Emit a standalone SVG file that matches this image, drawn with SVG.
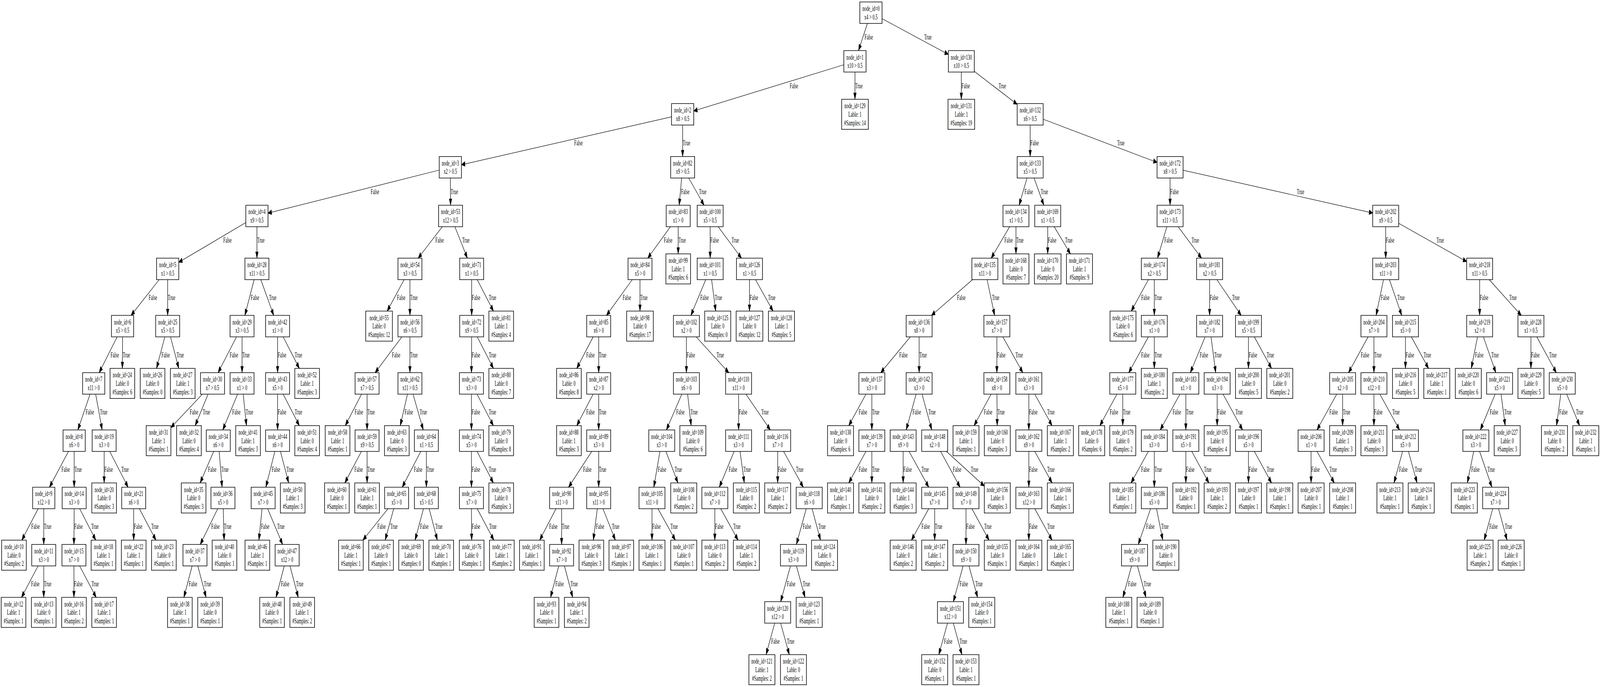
<svg xmlns="http://www.w3.org/2000/svg" xmlns:xlink="http://www.w3.org/1999/xlink" width="7205" height="1759" viewBox="0 0 7205 1759" preserveAspectRatio="none">
<style>
svg{width:100vw;height:100vh}
.box{fill:#fff;stroke:#000;stroke-width:1.5;vector-effect:non-scaling-stroke}
text{font-family:"Liberation Serif","Times New Roman",serif;font-size:18px;fill:#000}
.n text{text-anchor:middle}
#connectors line{stroke:#000;stroke-width:1.2;fill:none;vector-effect:non-scaling-stroke}
</style>
<defs>
<marker id="ah" markerUnits="userSpaceOnUse" markerWidth="20" markerHeight="14" refX="16" refY="6" orient="auto" overflow="visible"><path d="M0,0L16,6L0,12z" fill="#000" stroke="#000" stroke-width="1.2"/></marker>
<rect id="bA" class="box" x="-50" y="-27.5" width="100" height="55"/>
<rect id="bB" class="box" x="-54" y="-27.5" width="108" height="55"/>
<rect id="bC" class="box" x="-58.5" y="-27.5" width="117" height="55"/>
<rect id="bD" class="box" x="-55.5" y="-38.5" width="111" height="77"/>
<rect id="bE" class="box" x="-58.5" y="-38.5" width="117" height="77"/>
<rect id="bF" class="box" x="-60" y="-38.5" width="120" height="77"/>
</defs>
<rect width="7205" height="1759" fill="#fff"/>
<g id="connectors" marker-end="url(#ah)">
<line x1="3906.1" y1="60" x2="3865.9" y2="129.6"/><text x="3893.2" y="101.1">False</text>
<line x1="3972" y1="47.8" x2="4270.5" y2="139.2"/><text x="4161.8" y="101.1">True</text>
<line x1="3800" y1="165.8" x2="3124" y2="284"/><text x="3556.3" y="225.7">False</text>
<line x1="3850" y1="184.6" x2="3850" y2="254.2"/><text x="3851" y="225.7">True</text>
<line x1="3024" y1="299.2" x2="2078" y2="421.8"/><text x="2586" y="372.3">False</text>
<line x1="3074" y1="320.2" x2="3074" y2="400.8"/><text x="3075" y="372.3">True</text>
<line x1="1978" y1="435.5" x2="1207" y2="545.7"/><text x="1669.5" y="496.9">False</text>
<line x1="2028" y1="455.8" x2="2029" y2="525.4"/><text x="2029.6" y="496.9">True</text>
<line x1="1107" y1="569.8" x2="805" y2="671.6"/><text x="1005.3" y="621.5">False</text>
<line x1="1157" y1="580.4" x2="1157" y2="661"/><text x="1158" y="621.5">True</text>
<line x1="716.9" y1="716" x2="590.1" y2="807.6"/><text x="669.5" y="768.1">False</text>
<line x1="755" y1="716" x2="755" y2="807.6"/><text x="756" y="768.1">True</text>
<line x1="527.6" y1="862.6" x2="446.4" y2="954.2"/><text x="497.6" y="914.7">False</text>
<line x1="552" y1="862.6" x2="551" y2="943.2"/><text x="552.6" y="914.7">True</text>
<line x1="405.5" y1="1009.2" x2="350.5" y2="1100.8"/><text x="385.5" y="1061.3">False</text>
<line x1="430.8" y1="1009.2" x2="460.2" y2="1100.8"/><text x="450" y="1061.3">True</text>
<line x1="308.3" y1="1155.8" x2="222.7" y2="1247.4"/><text x="276.6" y="1207.9">False</text>
<line x1="334" y1="1155.8" x2="334" y2="1247.4"/><text x="335" y="1207.9">True</text>
<line x1="171.9" y1="1302.4" x2="98.2" y2="1383"/><text x="140.9" y="1354.5">False</text>
<line x1="197" y1="1302.4" x2="197" y2="1394"/><text x="198" y="1354.5">True</text>
<line x1="171.5" y1="1449" x2="96.7" y2="1529.6"/><text x="140" y="1501.1">False</text>
<line x1="197" y1="1449" x2="197" y2="1529.6"/><text x="198" y="1501.1">True</text>
<line x1="334" y1="1302.4" x2="333" y2="1394"/><text x="334.6" y="1354.5">False</text>
<line x1="358.8" y1="1302.4" x2="431.3" y2="1383"/><text x="410.7" y="1354.5">True</text>
<line x1="333" y1="1449" x2="333" y2="1529.6"/><text x="334" y="1501.1">False</text>
<line x1="358.5" y1="1449" x2="433.3" y2="1529.6"/><text x="412" y="1501.1">True</text>
<line x1="469" y1="1155.8" x2="469" y2="1236.4"/><text x="470" y="1207.9">False</text>
<line x1="494" y1="1155.8" x2="577" y2="1247.4"/><text x="546.3" y="1207.9">True</text>
<line x1="602" y1="1302.4" x2="602" y2="1383"/><text x="603" y="1354.5">False</text>
<line x1="627.5" y1="1302.4" x2="702.3" y2="1383"/><text x="681" y="1354.5">True</text>
<line x1="742.2" y1="862.6" x2="704.9" y2="943.2"/><text x="727" y="914.7">False</text>
<line x1="767.8" y1="862.6" x2="805.1" y2="943.2"/><text x="795" y="914.7">True</text>
<line x1="1144.4" y1="716" x2="1102.6" y2="807.6"/><text x="1129.4" y="768.1">False</text>
<line x1="1174.4" y1="716" x2="1232.6" y2="807.6"/><text x="1211.4" y="768.1">True</text>
<line x1="1065" y1="862.6" x2="982" y2="954.2"/><text x="1034.3" y="914.7">False</text>
<line x1="1090" y1="862.6" x2="1090" y2="954.2"/><text x="1091" y="914.7">True</text>
<line x1="911.4" y1="1009.2" x2="769.5" y2="1094.8"/><text x="854.4" y="1061.3">False</text>
<line x1="937.1" y1="1009.2" x2="878.8" y2="1089.8"/><text x="912.8" y="1061.3">True</text>
<line x1="1069.9" y1="1009.2" x2="1003.1" y2="1100.8"/><text x="1045.4" y="1061.3">False</text>
<line x1="1095.1" y1="1009.2" x2="1109.9" y2="1089.8"/><text x="1106.5" y="1061.3">True</text>
<line x1="962.2" y1="1155.8" x2="901.1" y2="1236.4"/><text x="936.7" y="1207.9">False</text>
<line x1="986.9" y1="1155.8" x2="1000.1" y2="1247.4"/><text x="996" y="1207.9">True</text>
<line x1="980.4" y1="1302.4" x2="901.6" y2="1394"/><text x="951.3" y="1354.5">False</text>
<line x1="1005.3" y1="1302.4" x2="1009.2" y2="1383"/><text x="1009" y="1354.5">True</text>
<line x1="865.2" y1="1449" x2="827.9" y2="1529.6"/><text x="850" y="1501.1">False</text>
<line x1="890.8" y1="1449" x2="928.1" y2="1529.6"/><text x="918" y="1501.1">True</text>
<line x1="1250" y1="862.6" x2="1250" y2="954.2"/><text x="1251" y="914.7">False</text>
<line x1="1275" y1="862.6" x2="1348.1" y2="943.2"/><text x="1327.3" y="914.7">True</text>
<line x1="1250" y1="1009.2" x2="1250" y2="1100.8"/><text x="1251" y="1061.3">False</text>
<line x1="1275" y1="1009.2" x2="1348.1" y2="1089.8"/><text x="1327.3" y="1061.3">True</text>
<line x1="1237.8" y1="1155.8" x2="1197.2" y2="1247.4"/><text x="1223.3" y="1207.9">False</text>
<line x1="1262.8" y1="1155.8" x2="1300.1" y2="1236.4"/><text x="1290" y="1207.9">True</text>
<line x1="1180.1" y1="1302.4" x2="1165.8" y2="1383"/><text x="1174.9" y="1354.5">False</text>
<line x1="1205.3" y1="1302.4" x2="1272.7" y2="1394"/><text x="1248" y="1354.5">True</text>
<line x1="1280.2" y1="1449" x2="1242.9" y2="1529.6"/><text x="1265" y="1501.1">False</text>
<line x1="1305.8" y1="1449" x2="1343.1" y2="1529.6"/><text x="1333" y="1501.1">True</text>
<line x1="1991.9" y1="580.4" x2="1883.1" y2="661"/><text x="1960.5" y="621.5">False</text>
<line x1="2048.3" y1="580.4" x2="2104.7" y2="661"/><text x="2081.2" y="621.5">True</text>
<line x1="1819.9" y1="716" x2="1743.5" y2="796.6"/><text x="1787.7" y="768.1">False</text>
<line x1="1846" y1="716" x2="1846" y2="807.6"/><text x="1847" y="768.1">True</text>
<line x1="1809.8" y1="862.6" x2="1689.2" y2="954.2"/><text x="1764.7" y="914.7">False</text>
<line x1="1846" y1="862.6" x2="1846" y2="954.2"/><text x="1847" y="914.7">True</text>
<line x1="1628" y1="1009.2" x2="1554.9" y2="1089.8"/><text x="1597.3" y="1061.3">False</text>
<line x1="1653" y1="1009.2" x2="1653" y2="1100.8"/><text x="1654" y="1061.3">True</text>
<line x1="1627.5" y1="1155.8" x2="1552.7" y2="1236.4"/><text x="1596" y="1207.9">False</text>
<line x1="1653" y1="1155.8" x2="1653" y2="1236.4"/><text x="1654" y="1207.9">True</text>
<line x1="1834.9" y1="1009.2" x2="1802.5" y2="1089.8"/><text x="1821.8" y="1061.3">False</text>
<line x1="1859.9" y1="1009.2" x2="1906.1" y2="1100.8"/><text x="1889.5" y="1061.3">True</text>
<line x1="1894.9" y1="1155.8" x2="1811.1" y2="1247.4"/><text x="1863.9" y="1207.9">False</text>
<line x1="1920" y1="1155.8" x2="1920" y2="1247.4"/><text x="1921" y="1207.9">True</text>
<line x1="1747.4" y1="1302.4" x2="1634.1" y2="1383"/><text x="1699.2" y="1354.5">False</text>
<line x1="1772.9" y1="1302.4" x2="1734.4" y2="1383"/><text x="1757.2" y="1354.5">True</text>
<line x1="1907.1" y1="1302.4" x2="1869.1" y2="1383"/><text x="1891.6" y="1354.5">False</text>
<line x1="1932.6" y1="1302.4" x2="1969.4" y2="1383"/><text x="1959.4" y="1354.5">True</text>
<line x1="2124" y1="716" x2="2124" y2="807.6"/><text x="2125" y="768.1">False</text>
<line x1="2149" y1="716" x2="2222.1" y2="796.6"/><text x="2201.3" y="768.1">True</text>
<line x1="2124" y1="862.6" x2="2123" y2="954.2"/><text x="2124.6" y="914.7">False</text>
<line x1="2149" y1="862.6" x2="2222.1" y2="943.2"/><text x="2201.3" y="914.7">True</text>
<line x1="2123" y1="1009.2" x2="2123" y2="1100.8"/><text x="2124" y="1061.3">False</text>
<line x1="2148.1" y1="1009.2" x2="2221.8" y2="1089.8"/><text x="2200.9" y="1061.3">True</text>
<line x1="2123" y1="1155.8" x2="2123" y2="1247.4"/><text x="2124" y="1207.9">False</text>
<line x1="2148.1" y1="1155.8" x2="2221.8" y2="1236.4"/><text x="2200.9" y="1207.9">True</text>
<line x1="2123" y1="1302.4" x2="2124" y2="1383"/><text x="2124.6" y="1354.5">False</text>
<line x1="2148.7" y1="1302.4" x2="2224" y2="1383"/><text x="2202.6" y="1354.5">True</text>
<line x1="3069.6" y1="455.8" x2="3058.4" y2="525.4"/><text x="3066.7" y="496.9">False</text>
<line x1="3101.4" y1="455.8" x2="3170.6" y2="525.4"/><text x="3147.8" y="496.9">True</text>
<line x1="3019.1" y1="580.4" x2="2916.9" y2="661"/><text x="2989.7" y="621.5">False</text>
<line x1="3054" y1="580.4" x2="3054" y2="650"/><text x="3055" y="621.5">True</text>
<line x1="2847.1" y1="716" x2="2730.9" y2="807.6"/><text x="2803.7" y="768.1">False</text>
<line x1="2882" y1="716" x2="2882" y2="796.6"/><text x="2883" y="768.1">True</text>
<line x1="2670.9" y1="862.6" x2="2597.2" y2="943.2"/><text x="2639.9" y="914.7">False</text>
<line x1="2696" y1="862.6" x2="2696" y2="954.2"/><text x="2697" y="914.7">True</text>
<line x1="2670.9" y1="1009.2" x2="2597.2" y2="1089.8"/><text x="2639.9" y="1061.3">False</text>
<line x1="2696" y1="1009.2" x2="2696" y2="1100.8"/><text x="2697" y="1061.3">True</text>
<line x1="2664.7" y1="1155.8" x2="2560.3" y2="1247.4"/><text x="2625.8" y="1207.9">False</text>
<line x1="2696" y1="1155.8" x2="2696" y2="1247.4"/><text x="2697" y="1207.9">True</text>
<line x1="2503.9" y1="1302.4" x2="2430.2" y2="1383"/><text x="2472.9" y="1354.5">False</text>
<line x1="2529" y1="1302.4" x2="2529" y2="1394"/><text x="2530" y="1354.5">True</text>
<line x1="2516.2" y1="1449" x2="2478.9" y2="1529.6"/><text x="2501" y="1501.1">False</text>
<line x1="2541.8" y1="1449" x2="2579.1" y2="1529.6"/><text x="2569" y="1501.1">True</text>
<line x1="2689.8" y1="1302.4" x2="2671.7" y2="1383"/><text x="2682.9" y="1354.5">False</text>
<line x1="2715.1" y1="1302.4" x2="2771.2" y2="1383"/><text x="2755.5" y="1354.5">True</text>
<line x1="3198" y1="580.4" x2="3198" y2="661"/><text x="3199" y="621.5">False</text>
<line x1="3233.9" y1="580.4" x2="3339.1" y2="661"/><text x="3294.4" y="621.5">True</text>
<line x1="3177.9" y1="716" x2="3111.1" y2="807.6"/><text x="3153.4" y="768.1">False</text>
<line x1="3204.4" y1="716" x2="3223.1" y2="796.6"/><text x="3218.5" y="768.1">True</text>
<line x1="3091" y1="862.6" x2="3091" y2="954.2"/><text x="3092" y="914.7">False</text>
<line x1="3135.1" y1="862.6" x2="3281.9" y2="954.2"/><text x="3226.8" y="914.7">True</text>
<line x1="3070.2" y1="1009.2" x2="3000.8" y2="1100.8"/><text x="3044.7" y="1061.3">False</text>
<line x1="3096.4" y1="1009.2" x2="3112.4" y2="1089.8"/><text x="3108.6" y="1061.3">True</text>
<line x1="2971.7" y1="1155.8" x2="2944.3" y2="1247.4"/><text x="2962.2" y="1207.9">False</text>
<line x1="2998.6" y1="1155.8" x2="3053" y2="1236.4"/><text x="3037.8" y="1207.9">True</text>
<line x1="2936" y1="1302.4" x2="2936" y2="1383"/><text x="2937" y="1354.5">False</text>
<line x1="2962.8" y1="1302.4" x2="3041.4" y2="1383"/><text x="3019" y="1354.5">True</text>
<line x1="3326" y1="1009.2" x2="3326" y2="1100.8"/><text x="3327" y="1061.3">False</text>
<line x1="3359" y1="1009.2" x2="3469" y2="1100.8"/><text x="3428" y="1061.3">True</text>
<line x1="3305.9" y1="1155.8" x2="3239.1" y2="1247.4"/><text x="3281.4" y="1207.9">False</text>
<line x1="3332.6" y1="1155.8" x2="3351.8" y2="1236.4"/><text x="3347.1" y="1207.9">True</text>
<line x1="3219" y1="1302.4" x2="3219" y2="1383"/><text x="3220" y="1354.5">False</text>
<line x1="3245.6" y1="1302.4" x2="3323.7" y2="1383"/><text x="3301.5" y="1354.5">True</text>
<line x1="3502" y1="1155.8" x2="3502" y2="1236.4"/><text x="3503" y="1207.9">False</text>
<line x1="3528.6" y1="1155.8" x2="3617.4" y2="1247.4"/><text x="3584.5" y="1207.9">True</text>
<line x1="3630.7" y1="1302.4" x2="3586.3" y2="1394"/><text x="3614.7" y="1354.5">False</text>
<line x1="3656.9" y1="1302.4" x2="3694.9" y2="1383"/><text x="3684.6" y="1354.5">True</text>
<line x1="3559.7" y1="1449" x2="3515.3" y2="1540.6"/><text x="3543.7" y="1501.1">False</text>
<line x1="3586.3" y1="1449" x2="3625.4" y2="1529.6"/><text x="3614.7" y="1501.1">True</text>
<line x1="3488.7" y1="1595.6" x2="3449.6" y2="1676.2"/><text x="3472.7" y="1647.7">False</text>
<line x1="3515.3" y1="1595.6" x2="3554.4" y2="1676.2"/><text x="3543.7" y="1647.7">True</text>
<line x1="3375" y1="716" x2="3375" y2="796.6"/><text x="3376" y="768.1">False</text>
<line x1="3402" y1="716" x2="3481.2" y2="796.6"/><text x="3458.6" y="768.1">True</text>
<line x1="4329" y1="184.6" x2="4329" y2="254.2"/><text x="4330" y="225.7">False</text>
<line x1="4387.5" y1="182.7" x2="4580.5" y2="267.1"/><text x="4497.1" y="225.7">True</text>
<line x1="4639" y1="320.2" x2="4639" y2="400.8"/><text x="4640" y="372.3">False</text>
<line x1="4697.5" y1="305.3" x2="5210.5" y2="415.7"/><text x="5030.7" y="372.3">True</text>
<line x1="4624.9" y1="455.8" x2="4589.1" y2="525.4"/><text x="4613.5" y="496.9">False</text>
<line x1="4656.4" y1="455.8" x2="4700.6" y2="525.4"/><text x="4686.3" y="496.9">True</text>
<line x1="4546.6" y1="580.4" x2="4463.4" y2="661"/><text x="4522.8" y="621.5">False</text>
<line x1="4575" y1="580.4" x2="4575" y2="650"/><text x="4576" y="621.5">True</text>
<line x1="4379.5" y1="716" x2="4194.5" y2="807.6"/><text x="4309.8" y="768.1">False</text>
<line x1="4445.1" y1="716" x2="4478.9" y2="807.6"/><text x="4467" y="768.1">True</text>
<line x1="4099" y1="862.6" x2="3966" y2="954.2"/><text x="4049.2" y="914.7">False</text>
<line x1="4139" y1="862.6" x2="4139" y2="954.2"/><text x="4140" y="914.7">True</text>
<line x1="3899.5" y1="1009.2" x2="3822" y2="1089.8"/><text x="3866.9" y="1061.3">False</text>
<line x1="3926" y1="1009.2" x2="3926" y2="1100.8"/><text x="3927" y="1061.3">True</text>
<line x1="3899.5" y1="1155.8" x2="3822" y2="1236.4"/><text x="3866.9" y="1207.9">False</text>
<line x1="3926" y1="1155.8" x2="3926" y2="1236.4"/><text x="3927" y="1207.9">True</text>
<line x1="4125.5" y1="1009.2" x2="4080.5" y2="1100.8"/><text x="4109.3" y="1061.3">False</text>
<line x1="4152.1" y1="1009.2" x2="4195.9" y2="1100.8"/><text x="4180.2" y="1061.3">True</text>
<line x1="4067" y1="1155.8" x2="4067" y2="1236.4"/><text x="4068" y="1207.9">False</text>
<line x1="4093.6" y1="1155.8" x2="4182.4" y2="1247.4"/><text x="4149.5" y="1207.9">True</text>
<line x1="4182.4" y1="1302.4" x2="4104.3" y2="1383"/><text x="4149.5" y="1354.5">False</text>
<line x1="4209" y1="1302.4" x2="4209" y2="1383"/><text x="4210" y="1354.5">True</text>
<line x1="4235.5" y1="1155.8" x2="4323.5" y2="1247.4"/><text x="4290.9" y="1207.9">False</text>
<line x1="4261.9" y1="1155.8" x2="4432.5" y2="1244.5"/><text x="4371.8" y="1207.9">True</text>
<line x1="4350" y1="1302.4" x2="4350" y2="1394"/><text x="4351" y="1354.5">False</text>
<line x1="4376.5" y1="1302.4" x2="4454" y2="1383"/><text x="4431.9" y="1354.5">True</text>
<line x1="4336.9" y1="1449" x2="4293.1" y2="1540.6"/><text x="4321.2" y="1501.1">False</text>
<line x1="4363.3" y1="1449" x2="4402.4" y2="1529.6"/><text x="4391.7" y="1501.1">True</text>
<line x1="4266.7" y1="1595.6" x2="4227.6" y2="1676.2"/><text x="4250.7" y="1647.7">False</text>
<line x1="4293.1" y1="1595.6" x2="4331.6" y2="1676.2"/><text x="4321.2" y="1647.7">True</text>
<line x1="4489" y1="862.6" x2="4489" y2="954.2"/><text x="4490" y="914.7">False</text>
<line x1="4516" y1="862.6" x2="4606" y2="954.2"/><text x="4572.6" y="914.7">True</text>
<line x1="4462.9" y1="1009.2" x2="4386.5" y2="1089.8"/><text x="4430.7" y="1061.3">False</text>
<line x1="4489.4" y1="1009.2" x2="4490.5" y2="1089.8"/><text x="4491.1" y="1061.3">True</text>
<line x1="4633" y1="1009.2" x2="4633" y2="1100.8"/><text x="4634" y="1061.3">False</text>
<line x1="4659.6" y1="1009.2" x2="4737.7" y2="1089.8"/><text x="4715.5" y="1061.3">True</text>
<line x1="4633" y1="1155.8" x2="4633" y2="1247.4"/><text x="4634" y="1207.9">False</text>
<line x1="4659.6" y1="1155.8" x2="4737.7" y2="1236.4"/><text x="4715.5" y="1207.9">True</text>
<line x1="4633" y1="1302.4" x2="4633" y2="1383"/><text x="4634" y="1354.5">False</text>
<line x1="4659.6" y1="1302.4" x2="4737.7" y2="1383"/><text x="4715.5" y="1354.5">True</text>
<line x1="4718" y1="580.4" x2="4718" y2="650"/><text x="4719" y="621.5">False</text>
<line x1="4747" y1="580.4" x2="4820.4" y2="650"/><text x="4796.1" y="621.5">True</text>
<line x1="5269" y1="455.8" x2="5269" y2="525.4"/><text x="5270" y="496.9">False</text>
<line x1="5327.5" y1="435.8" x2="6181.5" y2="545.4"/><text x="5839.7" y="496.9">True</text>
<line x1="5254.6" y1="580.4" x2="5212.4" y2="661"/><text x="5243" y="621.5">False</text>
<line x1="5305.1" y1="580.4" x2="5410.9" y2="661"/><text x="5366" y="621.5">True</text>
<line x1="5171.5" y1="716" x2="5094" y2="796.6"/><text x="5138.9" y="768.1">False</text>
<line x1="5198" y1="716" x2="5198" y2="807.6"/><text x="5199" y="768.1">True</text>
<line x1="5171.4" y1="862.6" x2="5082.6" y2="954.2"/><text x="5138.5" y="914.7">False</text>
<line x1="5198" y1="862.6" x2="5198" y2="943.2"/><text x="5199" y="914.7">True</text>
<line x1="5029.7" y1="1009.2" x2="4952.8" y2="1089.8"/><text x="4997.3" y="1061.3">False</text>
<line x1="5056" y1="1009.2" x2="5056" y2="1089.8"/><text x="5057" y="1061.3">True</text>
<line x1="5447" y1="716" x2="5447" y2="807.6"/><text x="5448" y="768.1">False</text>
<line x1="5479.8" y1="716" x2="5589.2" y2="807.6"/><text x="5548.4" y="768.1">True</text>
<line x1="5426.9" y1="862.6" x2="5360.1" y2="954.2"/><text x="5402.4" y="914.7">False</text>
<line x1="5453.4" y1="862.6" x2="5474.6" y2="954.2"/><text x="5467.5" y="914.7">True</text>
<line x1="5313.4" y1="1009.2" x2="5224.6" y2="1100.8"/><text x="5280.5" y="1061.3">False</text>
<line x1="5340" y1="1009.2" x2="5340" y2="1100.8"/><text x="5341" y="1061.3">True</text>
<line x1="5171.4" y1="1155.8" x2="5093.3" y2="1236.4"/><text x="5138.5" y="1207.9">False</text>
<line x1="5198" y1="1155.8" x2="5198" y2="1247.4"/><text x="5199" y="1207.9">True</text>
<line x1="5181.3" y1="1302.4" x2="5125.7" y2="1394"/><text x="5161.1" y="1354.5">False</text>
<line x1="5207.8" y1="1302.4" x2="5236.3" y2="1383"/><text x="5228.8" y="1354.5">True</text>
<line x1="5095.7" y1="1449" x2="5056.6" y2="1529.6"/><text x="5079.7" y="1501.1">False</text>
<line x1="5122.1" y1="1449" x2="5160.6" y2="1529.6"/><text x="5150.2" y="1501.1">True</text>
<line x1="5340" y1="1155.8" x2="5340" y2="1236.4"/><text x="5341" y="1207.9">False</text>
<line x1="5366.5" y1="1155.8" x2="5444" y2="1236.4"/><text x="5421.9" y="1207.9">True</text>
<line x1="5481" y1="1009.2" x2="5481" y2="1089.8"/><text x="5482" y="1061.3">False</text>
<line x1="5507.5" y1="1009.2" x2="5595.5" y2="1100.8"/><text x="5562.9" y="1061.3">True</text>
<line x1="5622" y1="1155.8" x2="5622" y2="1236.4"/><text x="5623" y="1207.9">False</text>
<line x1="5648.5" y1="1155.8" x2="5726" y2="1236.4"/><text x="5703.9" y="1207.9">True</text>
<line x1="5622" y1="862.6" x2="5622" y2="943.2"/><text x="5623" y="914.7">False</text>
<line x1="5648.5" y1="862.6" x2="5726" y2="943.2"/><text x="5703.9" y="914.7">True</text>
<line x1="6240" y1="580.4" x2="6240" y2="661"/><text x="6241" y="621.5">False</text>
<line x1="6298.5" y1="571.7" x2="6604.5" y2="669.7"/><text x="6469" y="621.5">True</text>
<line x1="6230.1" y1="716" x2="6196.9" y2="807.6"/><text x="6218.4" y="768.1">False</text>
<line x1="6256.7" y1="716" x2="6312.3" y2="807.6"/><text x="6292.1" y="768.1">True</text>
<line x1="6160.5" y1="862.6" x2="6072.5" y2="954.2"/><text x="6127.9" y="914.7">False</text>
<line x1="6187" y1="862.6" x2="6187" y2="954.2"/><text x="6188" y="914.7">True</text>
<line x1="6019.4" y1="1009.2" x2="5930.6" y2="1100.8"/><text x="5986.5" y="1061.3">False</text>
<line x1="6046" y1="1009.2" x2="6046" y2="1089.8"/><text x="6047" y="1061.3">True</text>
<line x1="5904" y1="1155.8" x2="5904" y2="1236.4"/><text x="5905" y="1207.9">False</text>
<line x1="5930.6" y1="1155.8" x2="6008.7" y2="1236.4"/><text x="5986.5" y="1207.9">True</text>
<line x1="6187" y1="1009.2" x2="6187" y2="1089.8"/><text x="6188" y="1061.3">False</text>
<line x1="6213.6" y1="1009.2" x2="6302.4" y2="1100.8"/><text x="6269.5" y="1061.3">True</text>
<line x1="6315.9" y1="1155.8" x2="6277.4" y2="1236.4"/><text x="6300.2" y="1207.9">False</text>
<line x1="6342.3" y1="1155.8" x2="6381.4" y2="1236.4"/><text x="6370.7" y="1207.9">True</text>
<line x1="6329" y1="862.6" x2="6329" y2="943.2"/><text x="6330" y="914.7">False</text>
<line x1="6355.5" y1="862.6" x2="6433" y2="943.2"/><text x="6410.9" y="914.7">True</text>
<line x1="6663" y1="716" x2="6663" y2="807.6"/><text x="6664" y="768.1">False</text>
<line x1="6706.3" y1="716" x2="6850.7" y2="807.6"/><text x="6796.5" y="768.1">True</text>
<line x1="6653.4" y1="862.6" x2="6625.4" y2="943.2"/><text x="6642.3" y="914.7">False</text>
<line x1="6679.9" y1="862.6" x2="6736.1" y2="954.2"/><text x="6715.6" y="914.7">True</text>
<line x1="6732.9" y1="1009.2" x2="6666.1" y2="1100.8"/><text x="6708.4" y="1061.3">False</text>
<line x1="6759.4" y1="1009.2" x2="6778.1" y2="1089.8"/><text x="6773.5" y="1061.3">True</text>
<line x1="6636.2" y1="1155.8" x2="6607.7" y2="1236.4"/><text x="6624.8" y="1207.9">False</text>
<line x1="6662.7" y1="1155.8" x2="6718.3" y2="1247.4"/><text x="6698.1" y="1207.9">True</text>
<line x1="6721.9" y1="1302.4" x2="6683.4" y2="1383"/><text x="6706.2" y="1354.5">False</text>
<line x1="6748.1" y1="1302.4" x2="6786.6" y2="1383"/><text x="6776.2" y="1354.5">True</text>
<line x1="6894" y1="862.6" x2="6894" y2="943.2"/><text x="6895" y="914.7">False</text>
<line x1="6920.5" y1="862.6" x2="7008.5" y2="954.2"/><text x="6975.9" y="914.7">True</text>
<line x1="7028.4" y1="1009.2" x2="7009.2" y2="1089.8"/><text x="7021.1" y="1061.3">False</text>
<line x1="7054.9" y1="1009.2" x2="7113.2" y2="1089.8"/><text x="7096.8" y="1061.3">True</text>
</g>
<g id="nodes">
<g id="node0" class="n" transform="translate(3922,32.5)"><use xlink:href="#bA"/><text y="-4.5">node_id=0</text><text y="17.1">x4 &gt; 0.5</text></g>
<g id="node1" class="n" transform="translate(3850,157.1)"><use xlink:href="#bA"/><text y="-4.5">node_id=1</text><text y="17.1">x10 &gt; 0.5</text></g>
<g id="node2" class="n" transform="translate(3074,292.7)"><use xlink:href="#bA"/><text y="-4.5">node_id=2</text><text y="17.1">x8 &gt; 0.5</text></g>
<g id="node3" class="n" transform="translate(2028,428.3)"><use xlink:href="#bA"/><text y="-4.5">node_id=3</text><text y="17.1">x2 &gt; 0.5</text></g>
<g id="node4" class="n" transform="translate(1157,552.9)"><use xlink:href="#bA"/><text y="-4.5">node_id=4</text><text y="17.1">x9 &gt; 0.5</text></g>
<g id="node5" class="n" transform="translate(755,688.5)"><use xlink:href="#bA"/><text y="-4.5">node_id=5</text><text y="17.1">x1 &gt; 0.5</text></g>
<g id="node6" class="n" transform="translate(552,835.1)"><use xlink:href="#bA"/><text y="-4.5">node_id=6</text><text y="17.1">x5 &gt; 0.5</text></g>
<g id="node7" class="n" transform="translate(422,981.7)"><use xlink:href="#bA"/><text y="-4.5">node_id=7</text><text y="17.1">x11 &gt; 0</text></g>
<g id="node8" class="n" transform="translate(334,1128.3)"><use xlink:href="#bA"/><text y="-4.5">node_id=8</text><text y="17.1">x6 &gt; 0</text></g>
<g id="node9" class="n" transform="translate(197,1274.9)"><use xlink:href="#bA"/><text y="-4.5">node_id=9</text><text y="17.1">x12 &gt; 0</text></g>
<g id="node10" class="n" transform="translate(63,1421.5)"><use xlink:href="#bD"/><text y="-15.3">node_id=10</text><text y="6.3">Lable: 0</text><text y="27.9">#Samples: 2</text></g>
<g id="node11" class="n" transform="translate(197,1421.5)"><use xlink:href="#bB"/><text y="-4.5">node_id=11</text><text y="17.1">x3 &gt; 0</text></g>
<g id="node12" class="n" transform="translate(61,1568.1)"><use xlink:href="#bD"/><text y="-15.3">node_id=12</text><text y="6.3">Lable: 1</text><text y="27.9">#Samples: 1</text></g>
<g id="node13" class="n" transform="translate(197,1568.1)"><use xlink:href="#bD"/><text y="-15.3">node_id=13</text><text y="6.3">Lable: 0</text><text y="27.9">#Samples: 1</text></g>
<g id="node14" class="n" transform="translate(334,1274.9)"><use xlink:href="#bB"/><text y="-4.5">node_id=14</text><text y="17.1">x3 &gt; 0</text></g>
<g id="node15" class="n" transform="translate(333,1421.5)"><use xlink:href="#bB"/><text y="-4.5">node_id=15</text><text y="17.1">x7 &gt; 0</text></g>
<g id="node16" class="n" transform="translate(333,1568.1)"><use xlink:href="#bD"/><text y="-15.3">node_id=16</text><text y="6.3">Lable: 1</text><text y="27.9">#Samples: 2</text></g>
<g id="node17" class="n" transform="translate(469,1568.1)"><use xlink:href="#bD"/><text y="-15.3">node_id=17</text><text y="6.3">Lable: 1</text><text y="27.9">#Samples: 1</text></g>
<g id="node18" class="n" transform="translate(466,1421.5)"><use xlink:href="#bD"/><text y="-15.3">node_id=18</text><text y="6.3">Lable: 1</text><text y="27.9">#Samples: 1</text></g>
<g id="node19" class="n" transform="translate(469,1128.3)"><use xlink:href="#bB"/><text y="-4.5">node_id=19</text><text y="17.1">x3 &gt; 0</text></g>
<g id="node20" class="n" transform="translate(469,1274.9)"><use xlink:href="#bD"/><text y="-15.3">node_id=20</text><text y="6.3">Lable: 0</text><text y="27.9">#Samples: 3</text></g>
<g id="node21" class="n" transform="translate(602,1274.9)"><use xlink:href="#bB"/><text y="-4.5">node_id=21</text><text y="17.1">x6 &gt; 0</text></g>
<g id="node22" class="n" transform="translate(602,1421.5)"><use xlink:href="#bD"/><text y="-15.3">node_id=22</text><text y="6.3">Lable: 1</text><text y="27.9">#Samples: 1</text></g>
<g id="node23" class="n" transform="translate(738,1421.5)"><use xlink:href="#bD"/><text y="-15.3">node_id=23</text><text y="6.3">Lable: 0</text><text y="27.9">#Samples: 1</text></g>
<g id="node24" class="n" transform="translate(551,981.7)"><use xlink:href="#bD"/><text y="-15.3">node_id=24</text><text y="6.3">Lable: 0</text><text y="27.9">#Samples: 6</text></g>
<g id="node25" class="n" transform="translate(755,835.1)"><use xlink:href="#bB"/><text y="-4.5">node_id=25</text><text y="17.1">x5 &gt; 0.5</text></g>
<g id="node26" class="n" transform="translate(687,981.7)"><use xlink:href="#bD"/><text y="-15.3">node_id=26</text><text y="6.3">Lable: 0</text><text y="27.9">#Samples: 0</text></g>
<g id="node27" class="n" transform="translate(823,981.7)"><use xlink:href="#bD"/><text y="-15.3">node_id=27</text><text y="6.3">Lable: 1</text><text y="27.9">#Samples: 3</text></g>
<g id="node28" class="n" transform="translate(1157,688.5)"><use xlink:href="#bB"/><text y="-4.5">node_id=28</text><text y="17.1">x11 &gt; 0.5</text></g>
<g id="node29" class="n" transform="translate(1090,835.1)"><use xlink:href="#bB"/><text y="-4.5">node_id=29</text><text y="17.1">x3 &gt; 0.5</text></g>
<g id="node30" class="n" transform="translate(957,981.7)"><use xlink:href="#bB"/><text y="-4.5">node_id=30</text><text y="17.1">x7 &gt; 0.5</text></g>
<g id="node31" class="n" transform="translate(714,1128.3)"><use xlink:href="#bD"/><text y="-15.3">node_id=31</text><text y="6.3">Lable: 1</text><text y="27.9">#Samples: 1</text></g>
<g id="node32" class="n" transform="translate(851,1128.3)"><use xlink:href="#bD"/><text y="-15.3">node_id=32</text><text y="6.3">Lable: 0</text><text y="27.9">#Samples: 4</text></g>
<g id="node33" class="n" transform="translate(1090,981.7)"><use xlink:href="#bB"/><text y="-4.5">node_id=33</text><text y="17.1">x1 &gt; 0</text></g>
<g id="node34" class="n" transform="translate(983,1128.3)"><use xlink:href="#bB"/><text y="-4.5">node_id=34</text><text y="17.1">x6 &gt; 0</text></g>
<g id="node35" class="n" transform="translate(872,1274.9)"><use xlink:href="#bD"/><text y="-15.3">node_id=35</text><text y="6.3">Lable: 0</text><text y="27.9">#Samples: 3</text></g>
<g id="node36" class="n" transform="translate(1004,1274.9)"><use xlink:href="#bB"/><text y="-4.5">node_id=36</text><text y="17.1">x5 &gt; 0</text></g>
<g id="node37" class="n" transform="translate(878,1421.5)"><use xlink:href="#bB"/><text y="-4.5">node_id=37</text><text y="17.1">x7 &gt; 0</text></g>
<g id="node38" class="n" transform="translate(810,1568.1)"><use xlink:href="#bD"/><text y="-15.3">node_id=38</text><text y="6.3">Lable: 1</text><text y="27.9">#Samples: 1</text></g>
<g id="node39" class="n" transform="translate(946,1568.1)"><use xlink:href="#bD"/><text y="-15.3">node_id=39</text><text y="6.3">Lable: 0</text><text y="27.9">#Samples: 1</text></g>
<g id="node40" class="n" transform="translate(1011,1421.5)"><use xlink:href="#bD"/><text y="-15.3">node_id=40</text><text y="6.3">Lable: 0</text><text y="27.9">#Samples: 1</text></g>
<g id="node41" class="n" transform="translate(1117,1128.3)"><use xlink:href="#bD"/><text y="-15.3">node_id=41</text><text y="6.3">Lable: 1</text><text y="27.9">#Samples: 3</text></g>
<g id="node42" class="n" transform="translate(1250,835.1)"><use xlink:href="#bB"/><text y="-4.5">node_id=42</text><text y="17.1">x1 &gt; 0</text></g>
<g id="node43" class="n" transform="translate(1250,981.7)"><use xlink:href="#bB"/><text y="-4.5">node_id=43</text><text y="17.1">x5 &gt; 0</text></g>
<g id="node44" class="n" transform="translate(1250,1128.3)"><use xlink:href="#bB"/><text y="-4.5">node_id=44</text><text y="17.1">x6 &gt; 0</text></g>
<g id="node45" class="n" transform="translate(1185,1274.9)"><use xlink:href="#bB"/><text y="-4.5">node_id=45</text><text y="17.1">x7 &gt; 0</text></g>
<g id="node46" class="n" transform="translate(1159,1421.5)"><use xlink:href="#bD"/><text y="-15.3">node_id=46</text><text y="6.3">Lable: 1</text><text y="27.9">#Samples: 1</text></g>
<g id="node47" class="n" transform="translate(1293,1421.5)"><use xlink:href="#bB"/><text y="-4.5">node_id=47</text><text y="17.1">x12 &gt; 0</text></g>
<g id="node48" class="n" transform="translate(1225,1568.1)"><use xlink:href="#bD"/><text y="-15.3">node_id=48</text><text y="6.3">Lable: 0</text><text y="27.9">#Samples: 1</text></g>
<g id="node49" class="n" transform="translate(1361,1568.1)"><use xlink:href="#bD"/><text y="-15.3">node_id=49</text><text y="6.3">Lable: 1</text><text y="27.9">#Samples: 2</text></g>
<g id="node50" class="n" transform="translate(1318,1274.9)"><use xlink:href="#bD"/><text y="-15.3">node_id=50</text><text y="6.3">Lable: 1</text><text y="27.9">#Samples: 3</text></g>
<g id="node51" class="n" transform="translate(1383,1128.3)"><use xlink:href="#bD"/><text y="-15.3">node_id=51</text><text y="6.3">Lable: 0</text><text y="27.9">#Samples: 4</text></g>
<g id="node52" class="n" transform="translate(1383,981.7)"><use xlink:href="#bD"/><text y="-15.3">node_id=52</text><text y="6.3">Lable: 1</text><text y="27.9">#Samples: 3</text></g>
<g id="node53" class="n" transform="translate(2029,552.9)"><use xlink:href="#bB"/><text y="-4.5">node_id=53</text><text y="17.1">x12 &gt; 0.5</text></g>
<g id="node54" class="n" transform="translate(1846,688.5)"><use xlink:href="#bB"/><text y="-4.5">node_id=54</text><text y="17.1">x3 &gt; 0.5</text></g>
<g id="node55" class="n" transform="translate(1707,835.1)"><use xlink:href="#bF"/><text y="-15.3">node_id=55</text><text y="6.3">Lable: 0</text><text y="27.9">#Samples: 12</text></g>
<g id="node56" class="n" transform="translate(1846,835.1)"><use xlink:href="#bB"/><text y="-4.5">node_id=56</text><text y="17.1">x6 &gt; 0.5</text></g>
<g id="node57" class="n" transform="translate(1653,981.7)"><use xlink:href="#bB"/><text y="-4.5">node_id=57</text><text y="17.1">x7 &gt; 0.5</text></g>
<g id="node58" class="n" transform="translate(1520,1128.3)"><use xlink:href="#bD"/><text y="-15.3">node_id=58</text><text y="6.3">Lable: 1</text><text y="27.9">#Samples: 1</text></g>
<g id="node59" class="n" transform="translate(1653,1128.3)"><use xlink:href="#bB"/><text y="-4.5">node_id=59</text><text y="17.1">x9 &gt; 0.5</text></g>
<g id="node60" class="n" transform="translate(1517,1274.9)"><use xlink:href="#bD"/><text y="-15.3">node_id=60</text><text y="6.3">Lable: 0</text><text y="27.9">#Samples: 1</text></g>
<g id="node61" class="n" transform="translate(1653,1274.9)"><use xlink:href="#bD"/><text y="-15.3">node_id=61</text><text y="6.3">Lable: 1</text><text y="27.9">#Samples: 1</text></g>
<g id="node62" class="n" transform="translate(1846,981.7)"><use xlink:href="#bB"/><text y="-4.5">node_id=62</text><text y="17.1">x11 &gt; 0.5</text></g>
<g id="node63" class="n" transform="translate(1787,1128.3)"><use xlink:href="#bD"/><text y="-15.3">node_id=63</text><text y="6.3">Lable: 0</text><text y="27.9">#Samples: 3</text></g>
<g id="node64" class="n" transform="translate(1920,1128.3)"><use xlink:href="#bB"/><text y="-4.5">node_id=64</text><text y="17.1">x1 &gt; 0.5</text></g>
<g id="node65" class="n" transform="translate(1786,1274.9)"><use xlink:href="#bB"/><text y="-4.5">node_id=65</text><text y="17.1">x5 &gt; 0</text></g>
<g id="node66" class="n" transform="translate(1580,1421.5)"><use xlink:href="#bD"/><text y="-15.3">node_id=66</text><text y="6.3">Lable: 1</text><text y="27.9">#Samples: 1</text></g>
<g id="node67" class="n" transform="translate(1716,1421.5)"><use xlink:href="#bD"/><text y="-15.3">node_id=67</text><text y="6.3">Lable: 0</text><text y="27.9">#Samples: 1</text></g>
<g id="node68" class="n" transform="translate(1920,1274.9)"><use xlink:href="#bB"/><text y="-4.5">node_id=68</text><text y="17.1">x5 &gt; 0.5</text></g>
<g id="node69" class="n" transform="translate(1851,1421.5)"><use xlink:href="#bD"/><text y="-15.3">node_id=69</text><text y="6.3">Lable: 0</text><text y="27.9">#Samples: 0</text></g>
<g id="node70" class="n" transform="translate(1987,1421.5)"><use xlink:href="#bD"/><text y="-15.3">node_id=70</text><text y="6.3">Lable: 1</text><text y="27.9">#Samples: 1</text></g>
<g id="node71" class="n" transform="translate(2124,688.5)"><use xlink:href="#bB"/><text y="-4.5">node_id=71</text><text y="17.1">x1 &gt; 0.5</text></g>
<g id="node72" class="n" transform="translate(2124,835.1)"><use xlink:href="#bB"/><text y="-4.5">node_id=72</text><text y="17.1">x9 &gt; 0.5</text></g>
<g id="node73" class="n" transform="translate(2123,981.7)"><use xlink:href="#bB"/><text y="-4.5">node_id=73</text><text y="17.1">x3 &gt; 0</text></g>
<g id="node74" class="n" transform="translate(2123,1128.3)"><use xlink:href="#bB"/><text y="-4.5">node_id=74</text><text y="17.1">x5 &gt; 0</text></g>
<g id="node75" class="n" transform="translate(2123,1274.9)"><use xlink:href="#bB"/><text y="-4.5">node_id=75</text><text y="17.1">x7 &gt; 0</text></g>
<g id="node76" class="n" transform="translate(2124,1421.5)"><use xlink:href="#bD"/><text y="-15.3">node_id=76</text><text y="6.3">Lable: 0</text><text y="27.9">#Samples: 1</text></g>
<g id="node77" class="n" transform="translate(2260,1421.5)"><use xlink:href="#bD"/><text y="-15.3">node_id=77</text><text y="6.3">Lable: 1</text><text y="27.9">#Samples: 2</text></g>
<g id="node78" class="n" transform="translate(2257,1274.9)"><use xlink:href="#bD"/><text y="-15.3">node_id=78</text><text y="6.3">Lable: 0</text><text y="27.9">#Samples: 3</text></g>
<g id="node79" class="n" transform="translate(2257,1128.3)"><use xlink:href="#bD"/><text y="-15.3">node_id=79</text><text y="6.3">Lable: 0</text><text y="27.9">#Samples: 8</text></g>
<g id="node80" class="n" transform="translate(2257,981.7)"><use xlink:href="#bD"/><text y="-15.3">node_id=80</text><text y="6.3">Lable: 0</text><text y="27.9">#Samples: 7</text></g>
<g id="node81" class="n" transform="translate(2257,835.1)"><use xlink:href="#bD"/><text y="-15.3">node_id=81</text><text y="6.3">Lable: 1</text><text y="27.9">#Samples: 4</text></g>
<g id="node82" class="n" transform="translate(3074,428.3)"><use xlink:href="#bB"/><text y="-4.5">node_id=82</text><text y="17.1">x9 &gt; 0.5</text></g>
<g id="node83" class="n" transform="translate(3054,552.9)"><use xlink:href="#bB"/><text y="-4.5">node_id=83</text><text y="17.1">x1 &gt; 0</text></g>
<g id="node84" class="n" transform="translate(2882,688.5)"><use xlink:href="#bB"/><text y="-4.5">node_id=84</text><text y="17.1">x5 &gt; 0</text></g>
<g id="node85" class="n" transform="translate(2696,835.1)"><use xlink:href="#bB"/><text y="-4.5">node_id=85</text><text y="17.1">x6 &gt; 0</text></g>
<g id="node86" class="n" transform="translate(2562,981.7)"><use xlink:href="#bD"/><text y="-15.3">node_id=86</text><text y="6.3">Lable: 0</text><text y="27.9">#Samples: 8</text></g>
<g id="node87" class="n" transform="translate(2696,981.7)"><use xlink:href="#bB"/><text y="-4.5">node_id=87</text><text y="17.1">x2 &gt; 0</text></g>
<g id="node88" class="n" transform="translate(2562,1128.3)"><use xlink:href="#bD"/><text y="-15.3">node_id=88</text><text y="6.3">Lable: 1</text><text y="27.9">#Samples: 3</text></g>
<g id="node89" class="n" transform="translate(2696,1128.3)"><use xlink:href="#bB"/><text y="-4.5">node_id=89</text><text y="17.1">x3 &gt; 0</text></g>
<g id="node90" class="n" transform="translate(2529,1274.9)"><use xlink:href="#bB"/><text y="-4.5">node_id=90</text><text y="17.1">x11 &gt; 0</text></g>
<g id="node91" class="n" transform="translate(2395,1421.5)"><use xlink:href="#bD"/><text y="-15.3">node_id=91</text><text y="6.3">Lable: 1</text><text y="27.9">#Samples: 1</text></g>
<g id="node92" class="n" transform="translate(2529,1421.5)"><use xlink:href="#bB"/><text y="-4.5">node_id=92</text><text y="17.1">x7 &gt; 0</text></g>
<g id="node93" class="n" transform="translate(2461,1568.1)"><use xlink:href="#bD"/><text y="-15.3">node_id=93</text><text y="6.3">Lable: 0</text><text y="27.9">#Samples: 1</text></g>
<g id="node94" class="n" transform="translate(2597,1568.1)"><use xlink:href="#bD"/><text y="-15.3">node_id=94</text><text y="6.3">Lable: 1</text><text y="27.9">#Samples: 2</text></g>
<g id="node95" class="n" transform="translate(2696,1274.9)"><use xlink:href="#bB"/><text y="-4.5">node_id=95</text><text y="17.1">x11 &gt; 0</text></g>
<g id="node96" class="n" transform="translate(2663,1421.5)"><use xlink:href="#bD"/><text y="-15.3">node_id=96</text><text y="6.3">Lable: 0</text><text y="27.9">#Samples: 3</text></g>
<g id="node97" class="n" transform="translate(2798,1421.5)"><use xlink:href="#bD"/><text y="-15.3">node_id=97</text><text y="6.3">Lable: 1</text><text y="27.9">#Samples: 1</text></g>
<g id="node98" class="n" transform="translate(2882,835.1)"><use xlink:href="#bF"/><text y="-15.3">node_id=98</text><text y="6.3">Lable: 0</text><text y="27.9">#Samples: 17</text></g>
<g id="node99" class="n" transform="translate(3054,688.5)"><use xlink:href="#bD"/><text y="-15.3">node_id=99</text><text y="6.3">Lable: 1</text><text y="27.9">#Samples: 6</text></g>
<g id="node100" class="n" transform="translate(3198,552.9)"><use xlink:href="#bC"/><text y="-4.5">node_id=100</text><text y="17.1">x5 &gt; 0.5</text></g>
<g id="node101" class="n" transform="translate(3198,688.5)"><use xlink:href="#bC"/><text y="-4.5">node_id=101</text><text y="17.1">x1 &gt; 0.5</text></g>
<g id="node102" class="n" transform="translate(3091,835.1)"><use xlink:href="#bC"/><text y="-4.5">node_id=102</text><text y="17.1">x2 &gt; 0</text></g>
<g id="node103" class="n" transform="translate(3091,981.7)"><use xlink:href="#bC"/><text y="-4.5">node_id=103</text><text y="17.1">x6 &gt; 0</text></g>
<g id="node104" class="n" transform="translate(2980,1128.3)"><use xlink:href="#bC"/><text y="-4.5">node_id=104</text><text y="17.1">x3 &gt; 0</text></g>
<g id="node105" class="n" transform="translate(2936,1274.9)"><use xlink:href="#bC"/><text y="-4.5">node_id=105</text><text y="17.1">x11 &gt; 0</text></g>
<g id="node106" class="n" transform="translate(2936,1421.5)"><use xlink:href="#bE"/><text y="-15.3">node_id=106</text><text y="6.3">Lable: 1</text><text y="27.9">#Samples: 1</text></g>
<g id="node107" class="n" transform="translate(3079,1421.5)"><use xlink:href="#bE"/><text y="-15.3">node_id=107</text><text y="6.3">Lable: 0</text><text y="27.9">#Samples: 1</text></g>
<g id="node108" class="n" transform="translate(3079,1274.9)"><use xlink:href="#bE"/><text y="-15.3">node_id=108</text><text y="6.3">Lable: 0</text><text y="27.9">#Samples: 2</text></g>
<g id="node109" class="n" transform="translate(3120,1128.3)"><use xlink:href="#bE"/><text y="-15.3">node_id=109</text><text y="6.3">Lable: 0</text><text y="27.9">#Samples: 6</text></g>
<g id="node110" class="n" transform="translate(3326,981.7)"><use xlink:href="#bC"/><text y="-4.5">node_id=110</text><text y="17.1">x11 &gt; 0</text></g>
<g id="node111" class="n" transform="translate(3326,1128.3)"><use xlink:href="#bC"/><text y="-4.5">node_id=111</text><text y="17.1">x3 &gt; 0</text></g>
<g id="node112" class="n" transform="translate(3219,1274.9)"><use xlink:href="#bC"/><text y="-4.5">node_id=112</text><text y="17.1">x7 &gt; 0</text></g>
<g id="node113" class="n" transform="translate(3219,1421.5)"><use xlink:href="#bE"/><text y="-15.3">node_id=113</text><text y="6.3">Lable: 0</text><text y="27.9">#Samples: 2</text></g>
<g id="node114" class="n" transform="translate(3361,1421.5)"><use xlink:href="#bE"/><text y="-15.3">node_id=114</text><text y="6.3">Lable: 1</text><text y="27.9">#Samples: 2</text></g>
<g id="node115" class="n" transform="translate(3361,1274.9)"><use xlink:href="#bE"/><text y="-15.3">node_id=115</text><text y="6.3">Lable: 0</text><text y="27.9">#Samples: 2</text></g>
<g id="node116" class="n" transform="translate(3502,1128.3)"><use xlink:href="#bC"/><text y="-4.5">node_id=116</text><text y="17.1">x7 &gt; 0</text></g>
<g id="node117" class="n" transform="translate(3502,1274.9)"><use xlink:href="#bE"/><text y="-15.3">node_id=117</text><text y="6.3">Lable: 1</text><text y="27.9">#Samples: 2</text></g>
<g id="node118" class="n" transform="translate(3644,1274.9)"><use xlink:href="#bC"/><text y="-4.5">node_id=118</text><text y="17.1">x6 &gt; 0</text></g>
<g id="node119" class="n" transform="translate(3573,1421.5)"><use xlink:href="#bC"/><text y="-4.5">node_id=119</text><text y="17.1">x3 &gt; 0</text></g>
<g id="node120" class="n" transform="translate(3502,1568.1)"><use xlink:href="#bC"/><text y="-4.5">node_id=120</text><text y="17.1">x12 &gt; 0</text></g>
<g id="node121" class="n" transform="translate(3431,1714.7)"><use xlink:href="#bE"/><text y="-15.3">node_id=121</text><text y="6.3">Lable: 1</text><text y="27.9">#Samples: 2</text></g>
<g id="node122" class="n" transform="translate(3573,1714.7)"><use xlink:href="#bE"/><text y="-15.3">node_id=122</text><text y="6.3">Lable: 0</text><text y="27.9">#Samples: 1</text></g>
<g id="node123" class="n" transform="translate(3644,1568.1)"><use xlink:href="#bE"/><text y="-15.3">node_id=123</text><text y="6.3">Lable: 1</text><text y="27.9">#Samples: 1</text></g>
<g id="node124" class="n" transform="translate(3713,1421.5)"><use xlink:href="#bE"/><text y="-15.3">node_id=124</text><text y="6.3">Lable: 0</text><text y="27.9">#Samples: 2</text></g>
<g id="node125" class="n" transform="translate(3232,835.1)"><use xlink:href="#bE"/><text y="-15.3">node_id=125</text><text y="6.3">Lable: 0</text><text y="27.9">#Samples: 0</text></g>
<g id="node126" class="n" transform="translate(3375,688.5)"><use xlink:href="#bC"/><text y="-4.5">node_id=126</text><text y="17.1">x1 &gt; 0.5</text></g>
<g id="node127" class="n" transform="translate(3375,835.1)"><use xlink:href="#bF"/><text y="-15.3">node_id=127</text><text y="6.3">Lable: 0</text><text y="27.9">#Samples: 12</text></g>
<g id="node128" class="n" transform="translate(3519,835.1)"><use xlink:href="#bE"/><text y="-15.3">node_id=128</text><text y="6.3">Lable: 1</text><text y="27.9">#Samples: 5</text></g>
<g id="node129" class="n" transform="translate(3850,292.7)"><use xlink:href="#bF"/><text y="-15.3">node_id=129</text><text y="6.3">Lable: 1</text><text y="27.9">#Samples: 14</text></g>
<g id="node130" class="n" transform="translate(4329,157.1)"><use xlink:href="#bC"/><text y="-4.5">node_id=130</text><text y="17.1">x10 &gt; 0.5</text></g>
<g id="node131" class="n" transform="translate(4329,292.7)"><use xlink:href="#bF"/><text y="-15.3">node_id=131</text><text y="6.3">Lable: 1</text><text y="27.9">#Samples: 19</text></g>
<g id="node132" class="n" transform="translate(4639,292.7)"><use xlink:href="#bC"/><text y="-4.5">node_id=132</text><text y="17.1">x6 &gt; 0.5</text></g>
<g id="node133" class="n" transform="translate(4639,428.3)"><use xlink:href="#bC"/><text y="-4.5">node_id=133</text><text y="17.1">x5 &gt; 0.5</text></g>
<g id="node134" class="n" transform="translate(4575,552.9)"><use xlink:href="#bC"/><text y="-4.5">node_id=134</text><text y="17.1">x1 &gt; 0.5</text></g>
<g id="node135" class="n" transform="translate(4435,688.5)"><use xlink:href="#bC"/><text y="-4.5">node_id=135</text><text y="17.1">x11 &gt; 0</text></g>
<g id="node136" class="n" transform="translate(4139,835.1)"><use xlink:href="#bC"/><text y="-4.5">node_id=136</text><text y="17.1">x8 &gt; 0</text></g>
<g id="node137" class="n" transform="translate(3926,981.7)"><use xlink:href="#bC"/><text y="-4.5">node_id=137</text><text y="17.1">x3 &gt; 0</text></g>
<g id="node138" class="n" transform="translate(3785,1128.3)"><use xlink:href="#bE"/><text y="-15.3">node_id=138</text><text y="6.3">Lable: 0</text><text y="27.9">#Samples: 6</text></g>
<g id="node139" class="n" transform="translate(3926,1128.3)"><use xlink:href="#bC"/><text y="-4.5">node_id=139</text><text y="17.1">x7 &gt; 0</text></g>
<g id="node140" class="n" transform="translate(3785,1274.9)"><use xlink:href="#bE"/><text y="-15.3">node_id=140</text><text y="6.3">Lable: 1</text><text y="27.9">#Samples: 1</text></g>
<g id="node141" class="n" transform="translate(3926,1274.9)"><use xlink:href="#bE"/><text y="-15.3">node_id=141</text><text y="6.3">Lable: 0</text><text y="27.9">#Samples: 2</text></g>
<g id="node142" class="n" transform="translate(4139,981.7)"><use xlink:href="#bC"/><text y="-4.5">node_id=142</text><text y="17.1">x3 &gt; 0</text></g>
<g id="node143" class="n" transform="translate(4067,1128.3)"><use xlink:href="#bC"/><text y="-4.5">node_id=143</text><text y="17.1">x9 &gt; 0</text></g>
<g id="node144" class="n" transform="translate(4067,1274.9)"><use xlink:href="#bE"/><text y="-15.3">node_id=144</text><text y="6.3">Lable: 1</text><text y="27.9">#Samples: 3</text></g>
<g id="node145" class="n" transform="translate(4209,1274.9)"><use xlink:href="#bC"/><text y="-4.5">node_id=145</text><text y="17.1">x7 &gt; 0</text></g>
<g id="node146" class="n" transform="translate(4067,1421.5)"><use xlink:href="#bE"/><text y="-15.3">node_id=146</text><text y="6.3">Lable: 0</text><text y="27.9">#Samples: 2</text></g>
<g id="node147" class="n" transform="translate(4209,1421.5)"><use xlink:href="#bE"/><text y="-15.3">node_id=147</text><text y="6.3">Lable: 1</text><text y="27.9">#Samples: 2</text></g>
<g id="node148" class="n" transform="translate(4209,1128.3)"><use xlink:href="#bC"/><text y="-4.5">node_id=148</text><text y="17.1">x2 &gt; 0</text></g>
<g id="node149" class="n" transform="translate(4350,1274.9)"><use xlink:href="#bC"/><text y="-4.5">node_id=149</text><text y="17.1">x7 &gt; 0</text></g>
<g id="node150" class="n" transform="translate(4350,1421.5)"><use xlink:href="#bC"/><text y="-4.5">node_id=150</text><text y="17.1">x9 &gt; 0</text></g>
<g id="node151" class="n" transform="translate(4280,1568.1)"><use xlink:href="#bC"/><text y="-4.5">node_id=151</text><text y="17.1">x12 &gt; 0</text></g>
<g id="node152" class="n" transform="translate(4209,1714.7)"><use xlink:href="#bE"/><text y="-15.3">node_id=152</text><text y="6.3">Lable: 0</text><text y="27.9">#Samples: 1</text></g>
<g id="node153" class="n" transform="translate(4350,1714.7)"><use xlink:href="#bE"/><text y="-15.3">node_id=153</text><text y="6.3">Lable: 1</text><text y="27.9">#Samples: 1</text></g>
<g id="node154" class="n" transform="translate(4421,1568.1)"><use xlink:href="#bE"/><text y="-15.3">node_id=154</text><text y="6.3">Lable: 0</text><text y="27.9">#Samples: 1</text></g>
<g id="node155" class="n" transform="translate(4491,1421.5)"><use xlink:href="#bE"/><text y="-15.3">node_id=155</text><text y="6.3">Lable: 0</text><text y="27.9">#Samples: 1</text></g>
<g id="node156" class="n" transform="translate(4491,1274.9)"><use xlink:href="#bE"/><text y="-15.3">node_id=156</text><text y="6.3">Lable: 0</text><text y="27.9">#Samples: 3</text></g>
<g id="node157" class="n" transform="translate(4489,835.1)"><use xlink:href="#bC"/><text y="-4.5">node_id=157</text><text y="17.1">x7 &gt; 0</text></g>
<g id="node158" class="n" transform="translate(4489,981.7)"><use xlink:href="#bC"/><text y="-4.5">node_id=158</text><text y="17.1">x8 &gt; 0</text></g>
<g id="node159" class="n" transform="translate(4350,1128.3)"><use xlink:href="#bE"/><text y="-15.3">node_id=159</text><text y="6.3">Lable: 1</text><text y="27.9">#Samples: 1</text></g>
<g id="node160" class="n" transform="translate(4491,1128.3)"><use xlink:href="#bE"/><text y="-15.3">node_id=160</text><text y="6.3">Lable: 0</text><text y="27.9">#Samples: 3</text></g>
<g id="node161" class="n" transform="translate(4633,981.7)"><use xlink:href="#bC"/><text y="-4.5">node_id=161</text><text y="17.1">x3 &gt; 0</text></g>
<g id="node162" class="n" transform="translate(4633,1128.3)"><use xlink:href="#bC"/><text y="-4.5">node_id=162</text><text y="17.1">x9 &gt; 0</text></g>
<g id="node163" class="n" transform="translate(4633,1274.9)"><use xlink:href="#bC"/><text y="-4.5">node_id=163</text><text y="17.1">x12 &gt; 0</text></g>
<g id="node164" class="n" transform="translate(4633,1421.5)"><use xlink:href="#bE"/><text y="-15.3">node_id=164</text><text y="6.3">Lable: 0</text><text y="27.9">#Samples: 1</text></g>
<g id="node165" class="n" transform="translate(4775,1421.5)"><use xlink:href="#bE"/><text y="-15.3">node_id=165</text><text y="6.3">Lable: 1</text><text y="27.9">#Samples: 1</text></g>
<g id="node166" class="n" transform="translate(4775,1274.9)"><use xlink:href="#bE"/><text y="-15.3">node_id=166</text><text y="6.3">Lable: 1</text><text y="27.9">#Samples: 1</text></g>
<g id="node167" class="n" transform="translate(4775,1128.3)"><use xlink:href="#bE"/><text y="-15.3">node_id=167</text><text y="6.3">Lable: 1</text><text y="27.9">#Samples: 2</text></g>
<g id="node168" class="n" transform="translate(4575,688.5)"><use xlink:href="#bE"/><text y="-15.3">node_id=168</text><text y="6.3">Lable: 0</text><text y="27.9">#Samples: 7</text></g>
<g id="node169" class="n" transform="translate(4718,552.9)"><use xlink:href="#bC"/><text y="-4.5">node_id=169</text><text y="17.1">x1 &gt; 0.5</text></g>
<g id="node170" class="n" transform="translate(4718,688.5)"><use xlink:href="#bF"/><text y="-15.3">node_id=170</text><text y="6.3">Lable: 0</text><text y="27.9">#Samples: 20</text></g>
<g id="node171" class="n" transform="translate(4861,688.5)"><use xlink:href="#bE"/><text y="-15.3">node_id=171</text><text y="6.3">Lable: 1</text><text y="27.9">#Samples: 9</text></g>
<g id="node172" class="n" transform="translate(5269,428.3)"><use xlink:href="#bC"/><text y="-4.5">node_id=172</text><text y="17.1">x8 &gt; 0.5</text></g>
<g id="node173" class="n" transform="translate(5269,552.9)"><use xlink:href="#bC"/><text y="-4.5">node_id=173</text><text y="17.1">x11 &gt; 0.5</text></g>
<g id="node174" class="n" transform="translate(5198,688.5)"><use xlink:href="#bC"/><text y="-4.5">node_id=174</text><text y="17.1">x2 &gt; 0.5</text></g>
<g id="node175" class="n" transform="translate(5057,835.1)"><use xlink:href="#bE"/><text y="-15.3">node_id=175</text><text y="6.3">Lable: 0</text><text y="27.9">#Samples: 6</text></g>
<g id="node176" class="n" transform="translate(5198,835.1)"><use xlink:href="#bC"/><text y="-4.5">node_id=176</text><text y="17.1">x1 &gt; 0</text></g>
<g id="node177" class="n" transform="translate(5056,981.7)"><use xlink:href="#bC"/><text y="-4.5">node_id=177</text><text y="17.1">x5 &gt; 0</text></g>
<g id="node178" class="n" transform="translate(4916,1128.3)"><use xlink:href="#bE"/><text y="-15.3">node_id=178</text><text y="6.3">Lable: 0</text><text y="27.9">#Samples: 6</text></g>
<g id="node179" class="n" transform="translate(5056,1128.3)"><use xlink:href="#bE"/><text y="-15.3">node_id=179</text><text y="6.3">Lable: 0</text><text y="27.9">#Samples: 2</text></g>
<g id="node180" class="n" transform="translate(5198,981.7)"><use xlink:href="#bE"/><text y="-15.3">node_id=180</text><text y="6.3">Lable: 1</text><text y="27.9">#Samples: 2</text></g>
<g id="node181" class="n" transform="translate(5447,688.5)"><use xlink:href="#bC"/><text y="-4.5">node_id=181</text><text y="17.1">x2 &gt; 0.5</text></g>
<g id="node182" class="n" transform="translate(5447,835.1)"><use xlink:href="#bC"/><text y="-4.5">node_id=182</text><text y="17.1">x7 &gt; 0</text></g>
<g id="node183" class="n" transform="translate(5340,981.7)"><use xlink:href="#bC"/><text y="-4.5">node_id=183</text><text y="17.1">x1 &gt; 0</text></g>
<g id="node184" class="n" transform="translate(5198,1128.3)"><use xlink:href="#bC"/><text y="-4.5">node_id=184</text><text y="17.1">x3 &gt; 0</text></g>
<g id="node185" class="n" transform="translate(5056,1274.9)"><use xlink:href="#bE"/><text y="-15.3">node_id=185</text><text y="6.3">Lable: 1</text><text y="27.9">#Samples: 1</text></g>
<g id="node186" class="n" transform="translate(5198,1274.9)"><use xlink:href="#bC"/><text y="-4.5">node_id=186</text><text y="17.1">x5 &gt; 0</text></g>
<g id="node187" class="n" transform="translate(5109,1421.5)"><use xlink:href="#bC"/><text y="-4.5">node_id=187</text><text y="17.1">x9 &gt; 0</text></g>
<g id="node188" class="n" transform="translate(5038,1568.1)"><use xlink:href="#bE"/><text y="-15.3">node_id=188</text><text y="6.3">Lable: 1</text><text y="27.9">#Samples: 1</text></g>
<g id="node189" class="n" transform="translate(5179,1568.1)"><use xlink:href="#bE"/><text y="-15.3">node_id=189</text><text y="6.3">Lable: 0</text><text y="27.9">#Samples: 1</text></g>
<g id="node190" class="n" transform="translate(5250,1421.5)"><use xlink:href="#bE"/><text y="-15.3">node_id=190</text><text y="6.3">Lable: 0</text><text y="27.9">#Samples: 1</text></g>
<g id="node191" class="n" transform="translate(5340,1128.3)"><use xlink:href="#bC"/><text y="-4.5">node_id=191</text><text y="17.1">x5 &gt; 0</text></g>
<g id="node192" class="n" transform="translate(5340,1274.9)"><use xlink:href="#bE"/><text y="-15.3">node_id=192</text><text y="6.3">Lable: 0</text><text y="27.9">#Samples: 1</text></g>
<g id="node193" class="n" transform="translate(5481,1274.9)"><use xlink:href="#bE"/><text y="-15.3">node_id=193</text><text y="6.3">Lable: 1</text><text y="27.9">#Samples: 2</text></g>
<g id="node194" class="n" transform="translate(5481,981.7)"><use xlink:href="#bC"/><text y="-4.5">node_id=194</text><text y="17.1">x3 &gt; 0</text></g>
<g id="node195" class="n" transform="translate(5481,1128.3)"><use xlink:href="#bE"/><text y="-15.3">node_id=195</text><text y="6.3">Lable: 0</text><text y="27.9">#Samples: 4</text></g>
<g id="node196" class="n" transform="translate(5622,1128.3)"><use xlink:href="#bC"/><text y="-4.5">node_id=196</text><text y="17.1">x5 &gt; 0</text></g>
<g id="node197" class="n" transform="translate(5622,1274.9)"><use xlink:href="#bE"/><text y="-15.3">node_id=197</text><text y="6.3">Lable: 0</text><text y="27.9">#Samples: 1</text></g>
<g id="node198" class="n" transform="translate(5763,1274.9)"><use xlink:href="#bE"/><text y="-15.3">node_id=198</text><text y="6.3">Lable: 1</text><text y="27.9">#Samples: 1</text></g>
<g id="node199" class="n" transform="translate(5622,835.1)"><use xlink:href="#bC"/><text y="-4.5">node_id=199</text><text y="17.1">x5 &gt; 0.5</text></g>
<g id="node200" class="n" transform="translate(5622,981.7)"><use xlink:href="#bE"/><text y="-15.3">node_id=200</text><text y="6.3">Lable: 0</text><text y="27.9">#Samples: 5</text></g>
<g id="node201" class="n" transform="translate(5763,981.7)"><use xlink:href="#bE"/><text y="-15.3">node_id=201</text><text y="6.3">Lable: 0</text><text y="27.9">#Samples: 2</text></g>
<g id="node202" class="n" transform="translate(6240,552.9)"><use xlink:href="#bC"/><text y="-4.5">node_id=202</text><text y="17.1">x9 &gt; 0.5</text></g>
<g id="node203" class="n" transform="translate(6240,688.5)"><use xlink:href="#bC"/><text y="-4.5">node_id=203</text><text y="17.1">x11 &gt; 0</text></g>
<g id="node204" class="n" transform="translate(6187,835.1)"><use xlink:href="#bC"/><text y="-4.5">node_id=204</text><text y="17.1">x7 &gt; 0</text></g>
<g id="node205" class="n" transform="translate(6046,981.7)"><use xlink:href="#bC"/><text y="-4.5">node_id=205</text><text y="17.1">x2 &gt; 0</text></g>
<g id="node206" class="n" transform="translate(5904,1128.3)"><use xlink:href="#bC"/><text y="-4.5">node_id=206</text><text y="17.1">x1 &gt; 0</text></g>
<g id="node207" class="n" transform="translate(5904,1274.9)"><use xlink:href="#bE"/><text y="-15.3">node_id=207</text><text y="6.3">Lable: 0</text><text y="27.9">#Samples: 1</text></g>
<g id="node208" class="n" transform="translate(6046,1274.9)"><use xlink:href="#bE"/><text y="-15.3">node_id=208</text><text y="6.3">Lable: 1</text><text y="27.9">#Samples: 1</text></g>
<g id="node209" class="n" transform="translate(6046,1128.3)"><use xlink:href="#bE"/><text y="-15.3">node_id=209</text><text y="6.3">Lable: 1</text><text y="27.9">#Samples: 3</text></g>
<g id="node210" class="n" transform="translate(6187,981.7)"><use xlink:href="#bC"/><text y="-4.5">node_id=210</text><text y="17.1">x12 &gt; 0</text></g>
<g id="node211" class="n" transform="translate(6187,1128.3)"><use xlink:href="#bE"/><text y="-15.3">node_id=211</text><text y="6.3">Lable: 0</text><text y="27.9">#Samples: 3</text></g>
<g id="node212" class="n" transform="translate(6329,1128.3)"><use xlink:href="#bC"/><text y="-4.5">node_id=212</text><text y="17.1">x5 &gt; 0</text></g>
<g id="node213" class="n" transform="translate(6259,1274.9)"><use xlink:href="#bE"/><text y="-15.3">node_id=213</text><text y="6.3">Lable: 1</text><text y="27.9">#Samples: 1</text></g>
<g id="node214" class="n" transform="translate(6400,1274.9)"><use xlink:href="#bE"/><text y="-15.3">node_id=214</text><text y="6.3">Lable: 0</text><text y="27.9">#Samples: 1</text></g>
<g id="node215" class="n" transform="translate(6329,835.1)"><use xlink:href="#bC"/><text y="-4.5">node_id=215</text><text y="17.1">x5 &gt; 0</text></g>
<g id="node216" class="n" transform="translate(6329,981.7)"><use xlink:href="#bE"/><text y="-15.3">node_id=216</text><text y="6.3">Lable: 0</text><text y="27.9">#Samples: 5</text></g>
<g id="node217" class="n" transform="translate(6470,981.7)"><use xlink:href="#bE"/><text y="-15.3">node_id=217</text><text y="6.3">Lable: 1</text><text y="27.9">#Samples: 1</text></g>
<g id="node218" class="n" transform="translate(6663,688.5)"><use xlink:href="#bC"/><text y="-4.5">node_id=218</text><text y="17.1">x11 &gt; 0.5</text></g>
<g id="node219" class="n" transform="translate(6663,835.1)"><use xlink:href="#bC"/><text y="-4.5">node_id=219</text><text y="17.1">x2 &gt; 0</text></g>
<g id="node220" class="n" transform="translate(6612,981.7)"><use xlink:href="#bE"/><text y="-15.3">node_id=220</text><text y="6.3">Lable: 0</text><text y="27.9">#Samples: 6</text></g>
<g id="node221" class="n" transform="translate(6753,981.7)"><use xlink:href="#bC"/><text y="-4.5">node_id=221</text><text y="17.1">x5 &gt; 0</text></g>
<g id="node222" class="n" transform="translate(6646,1128.3)"><use xlink:href="#bC"/><text y="-4.5">node_id=222</text><text y="17.1">x3 &gt; 0</text></g>
<g id="node223" class="n" transform="translate(6594,1274.9)"><use xlink:href="#bE"/><text y="-15.3">node_id=223</text><text y="6.3">Lable: 0</text><text y="27.9">#Samples: 1</text></g>
<g id="node224" class="n" transform="translate(6735,1274.9)"><use xlink:href="#bC"/><text y="-4.5">node_id=224</text><text y="17.1">x7 &gt; 0</text></g>
<g id="node225" class="n" transform="translate(6665,1421.5)"><use xlink:href="#bE"/><text y="-15.3">node_id=225</text><text y="6.3">Lable: 1</text><text y="27.9">#Samples: 2</text></g>
<g id="node226" class="n" transform="translate(6805,1421.5)"><use xlink:href="#bE"/><text y="-15.3">node_id=226</text><text y="6.3">Lable: 0</text><text y="27.9">#Samples: 1</text></g>
<g id="node227" class="n" transform="translate(6787,1128.3)"><use xlink:href="#bE"/><text y="-15.3">node_id=227</text><text y="6.3">Lable: 0</text><text y="27.9">#Samples: 3</text></g>
<g id="node228" class="n" transform="translate(6894,835.1)"><use xlink:href="#bC"/><text y="-4.5">node_id=228</text><text y="17.1">x1 &gt; 0.5</text></g>
<g id="node229" class="n" transform="translate(6894,981.7)"><use xlink:href="#bE"/><text y="-15.3">node_id=229</text><text y="6.3">Lable: 0</text><text y="27.9">#Samples: 5</text></g>
<g id="node230" class="n" transform="translate(7035,981.7)"><use xlink:href="#bC"/><text y="-4.5">node_id=230</text><text y="17.1">x5 &gt; 0</text></g>
<g id="node231" class="n" transform="translate(7000,1128.3)"><use xlink:href="#bE"/><text y="-15.3">node_id=231</text><text y="6.3">Lable: 0</text><text y="27.9">#Samples: 2</text></g>
<g id="node232" class="n" transform="translate(7141,1128.3)"><use xlink:href="#bE"/><text y="-15.3">node_id=232</text><text y="6.3">Lable: 1</text><text y="27.9">#Samples: 1</text></g>
</g>
</svg>
